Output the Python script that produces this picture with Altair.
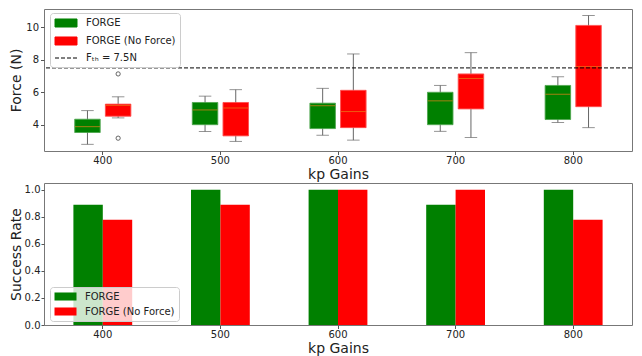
import altair as alt
import pandas as pd

gains = ["400", "500", "600", "700", "800"]
series = ["FORGE", "FORGE (No Force)"]
legend_items = ["FORGE", "FORGE (No Force)", "Fₜₕ = 7.5N"]

# box statistics (Force, N) per gain
forge_lower = [2.79, 3.58, 3.35, 3.59, 4.14]
forge_q1 = [3.52, 4.00, 3.76, 4.00, 4.32]
forge_median = [3.88, 4.91, 5.17, 5.47, 5.88]
forge_q3 = [4.34, 5.37, 5.33, 6.00, 6.42]
forge_upper = [4.87, 5.76, 6.24, 6.42, 6.95]

nf_lower = [4.42, 2.97, 3.05, 3.21, 3.82]
nf_q1 = [4.52, 3.31, 3.82, 4.97, 5.11]
nf_median = [5.19, 5.03, 4.81, 6.85, 7.58]
nf_q3 = [5.27, 5.37, 6.12, 7.13, 10.12]
nf_upper = [5.72, 6.16, 8.36, 8.44, 10.73]

outlier_gain = ["400", "400"]
outlier_series = ["FORGE (No Force)", "FORGE (No Force)"]
outlier_value = [7.13, 3.17]

threshold = [7.5]

forge_success = [0.889, 1.0, 1.0, 0.889, 1.0]
nf_success = [0.778, 0.889, 1.0, 1.0, 0.778]

GREEN = "#008000"
RED = "#ff0000"
FONT = "DejaVu Sans"
RECT = "M-2,-0.73H2V0.73H-2Z"
LINE = "M-2,0H2"

box_df = pd.concat([
    pd.DataFrame({"gain": gains, "series": series[0], "lower": forge_lower, "q1": forge_q1,
                  "median": forge_median, "q3": forge_q3, "upper": forge_upper}),
    pd.DataFrame({"gain": gains, "series": series[1], "lower": nf_lower, "q1": nf_q1,
                  "median": nf_median, "q3": nf_q3, "upper": nf_upper}),
], ignore_index=True)
out_df = pd.DataFrame({"gain": outlier_gain, "series": outlier_series, "value": outlier_value})
thr_df = pd.DataFrame({"v": threshold})
leg_df = pd.DataFrame({"item": legend_items})
bar_df = pd.concat([
    pd.DataFrame({"gain": gains, "method": series[0], "rate": forge_success}),
    pd.DataFrame({"gain": gains, "method": series[1], "rate": nf_success}),
], ignore_index=True)

W, H = 588, 142

x_top = alt.X("gain:N", scale=alt.Scale(domain=gains, paddingInner=0, paddingOuter=0),
              axis=alt.Axis(title="kp Gains", labelAngle=0))
xo_box = alt.XOffset("series:N", scale=alt.Scale(domain=series, paddingInner=0.167, paddingOuter=1))
y_force = alt.Scale(domain=[2.38, 11.13], nice=False, zero=False)
col_box = alt.Color("series:N", scale=alt.Scale(domain=series, range=[GREEN, RED]), legend=None)
y_axis_top = alt.Axis(title="Force (N)", values=[4, 6, 8, 10], minExtent=18, maxExtent=18, titlePadding=3)

base = alt.Chart(box_df)
whisk = base.mark_rule(color="#666", strokeWidth=1).encode(
    x=x_top, xOffset=xo_box,
    y=alt.Y("lower:Q", scale=y_force, axis=y_axis_top), y2="upper:Q")
cap_lo = base.mark_tick(color="#666", size=12.5, thickness=1).encode(
    x=x_top, xOffset=xo_box, y=alt.Y("lower:Q", scale=y_force))
cap_hi = base.mark_tick(color="#666", size=12.5, thickness=1).encode(
    x=x_top, xOffset=xo_box, y=alt.Y("upper:Q", scale=y_force))
box = base.mark_bar(strokeWidth=1, strokeOpacity=0.45, stroke="white").encode(
    x=x_top, xOffset=xo_box, y=alt.Y("q1:Q", scale=y_force), y2="q3:Q", color=col_box)
box_edge = base.mark_bar(filled=False, strokeWidth=1, strokeOpacity=0.55).encode(
    x=x_top, xOffset=xo_box, y=alt.Y("q1:Q", scale=y_force), y2="q3:Q", color=col_box)
med = base.mark_tick(color="#e8801a", size=25, thickness=1).encode(
    x=x_top, xOffset=xo_box, y=alt.Y("median:Q", scale=y_force))
outl = alt.Chart(out_df).mark_point(shape="circle", filled=False, color="#555", size=18,
                                   strokeWidth=0.9, opacity=1).encode(
    x=x_top, xOffset=xo_box, y=alt.Y("value:Q", scale=y_force))
thr = alt.Chart(thr_df).mark_rule(color="black", strokeDash=[4, 2], strokeWidth=1).encode(
    y=alt.Y("v:Q", scale=y_force))

top_leg = alt.Legend(title=None, orient="none", legendX=6, legendY=4, fillColor="white",
                     strokeColor="#cccccc", cornerRadius=3, padding=4, symbolSize=121,
                     symbolOffset=6, labelOffset=14, rowPadding=4, labelFontSize=10,
                     labelFont=FONT, labelColor="#222", symbolStrokeWidth=1)
helper = alt.Chart(leg_df).transform_filter("false").mark_point(opacity=1, filled=True).encode(
    fill=alt.Fill("item:N", scale=alt.Scale(domain=legend_items, range=[GREEN, RED, "black"]), legend=top_leg),
    stroke=alt.Stroke("item:N", scale=alt.Scale(domain=legend_items, range=[GREEN, RED, "black"]), legend=top_leg),
    shape=alt.Shape("item:N", scale=alt.Scale(domain=legend_items, range=[RECT, RECT, LINE]), legend=top_leg),
    strokeDash=alt.StrokeDash("item:N", scale=alt.Scale(domain=legend_items, range=[[1, 0], [1, 0], [4, 2]]), legend=top_leg),
)

top = alt.layer(whisk, cap_lo, cap_hi, box, box_edge, med, outl, thr, helper).properties(width=W, height=H)

bot_leg = alt.Legend(title=None, orient="none", legendX=6, legendY=104, fillColor="rgba(255,255,255,0.8)",
                     strokeColor="#cccccc", cornerRadius=3, padding=4, symbolSize=121,
                     symbolType=RECT, symbolOffset=6, labelOffset=14, rowPadding=4, labelFontSize=10,
                     labelFont=FONT, labelColor="#222", symbolStrokeWidth=0)
bottom = alt.Chart(bar_df).mark_bar().encode(
    x=alt.X("gain:N", scale=alt.Scale(domain=gains, paddingInner=0, paddingOuter=0),
            axis=alt.Axis(title="kp Gains", labelAngle=0)),
    xOffset=alt.XOffset("method:N", scale=alt.Scale(domain=series, paddingInner=0, paddingOuter=1)),
    y=alt.Y("rate:Q", scale=alt.Scale(domain=[0, 1.05], nice=False),
            axis=alt.Axis(title="Success Rate", values=[0, 0.2, 0.4, 0.6, 0.8, 1.0], format=".1f",
                          minExtent=21, maxExtent=21, titlePadding=0, tickSize=3, labelPadding=1)),
    color=alt.Color("method:N", scale=alt.Scale(domain=series, range=[GREEN, RED]), legend=bot_leg),
).properties(width=W, height=H)

chart = alt.vconcat(top, bottom, spacing=0).resolve_scale(
    color="independent", x="independent", y="independent", xOffset="independent"
).resolve_legend(color="independent").properties(
    padding={"left": 0, "top": 0, "right": 0, "bottom": 0}
).configure_view(stroke="#777", strokeWidth=1).configure_axis(
    labelFont=FONT, labelFontSize=10, labelColor="#222", titleFont=FONT, titleFontSize=14,
    titleFontWeight="normal", titleColor="#222", domain=False, grid=False, tickColor="#555",
    tickSize=3.5, labelPadding=2
).configure_axisX(labelPadding=1, titlePadding=2).configure_legend(labelFont=FONT)

chart.save("out.html", embed_options={"renderer": "svg", "actions": False})
